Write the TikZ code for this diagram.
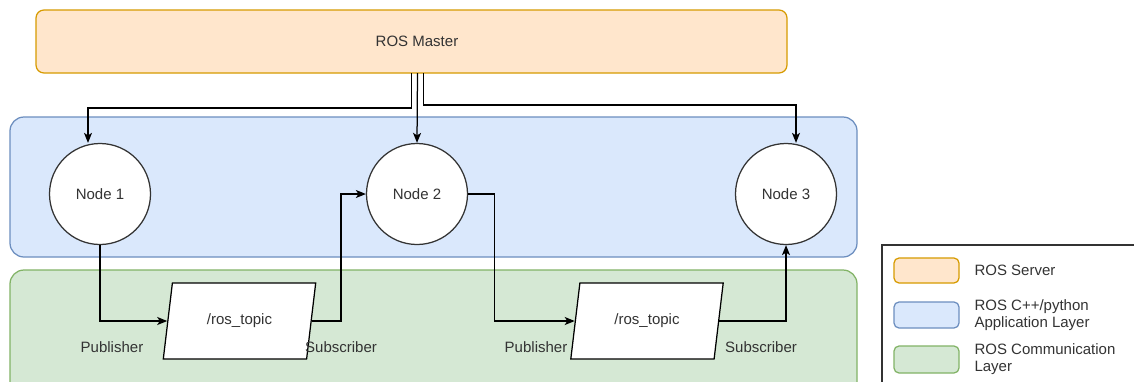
\documentclass[tikz,border=0pt]{standalone}
\usepackage{fontspec}
\setmainfont{Liberation Sans}
\usetikzlibrary{arrows.meta,shapes.geometric}
\definecolor{srvfill}{HTML}{FFE6CC}
\definecolor{srvline}{HTML}{D79B00}
\definecolor{appfill}{HTML}{DAE8FC}
\definecolor{appline}{HTML}{6C8EBF}
\definecolor{comfill}{HTML}{D5E8D4}
\definecolor{comline}{HTML}{82B366}
\definecolor{ink}{HTML}{333333}
\tikzset{
  lbl/.style={font=\fontsize{15}{17.5}\selectfont, text=ink},
  rosnode/.style={circle, draw=ink, fill=white, line width=1.25pt,
    minimum size=101pt, inner sep=0pt, lbl},
  topic/.style={trapezium, trapezium left angle=72.5, trapezium right angle=107.5,
    trapezium stretches=true, minimum width=153pt, minimum height=76pt,
    draw=black, fill=white, line width=1.25pt, inner sep=0pt, lbl},
  conn/.style={draw=black, line width=1.25pt,
    -{Stealth[length=10pt,width=8pt,inset=2.5pt]}},
  swatch/.style={rounded corners=5pt, line width=1.25pt},
}
\begin{document}
\begin{tikzpicture}[x=1pt,y=-1pt]
\useasboundingbox (0,0) rectangle (1134,381);
\clip (0,0) rectangle (1134,381);
\fill[white] (0,0) rectangle (1134,381);

% layer bands
\draw[fill=srvfill, draw=srvline, line width=1.25pt, rounded corners=8pt]
  (36,10) rectangle (787,73);
\draw[fill=appfill, draw=appline, line width=1.25pt, rounded corners=14pt]
  (10,117) rectangle (857,257);
\draw[fill=comfill, draw=comline, line width=1.25pt, rounded corners=14pt]
  (10,270) rectangle (857,400);

\node[lbl] (master) at (417,41.5) {ROS Master};
\coordinate (mbot) at (411.5,73);

% ROS nodes
\node[rosnode] (n1) at (100,194) {Node 1};
\node[rosnode] (n2) at (417,194) {Node 2};
\node[rosnode] (n3) at (786,194) {Node 3};

% topics
\node[topic] (t1) at (239.5,321) {/ros\_topic};
\node[topic] (t2) at (647,321) {/ros\_topic};

% publisher / subscriber labels
\node[lbl] (pub1) at (112,347) {Publisher};
\node[lbl] (sub1) at (341,347) {Subscriber};
\node[lbl] (pub2) at (536,347) {Publisher};
\node[lbl] (sub2) at (761,347) {Subscriber};

% master to nodes
\draw[conn] (mbot) -- ++(0,35) -| ([xshift=-12pt]n1.north);
\draw[conn] ([xshift=6pt]mbot) -- (n2.north);
\draw[conn] ([xshift=12pt]mbot) -- ++(0,32) -| ([xshift=10pt]n3.north);

% publish / subscribe
\draw[conn] (n1.south) |- (t1.west);
\draw[conn] (t1.east) -| ([xshift=-25pt]n2.west) -- (n2.west);
\draw[conn] (n2.east) -- ++(26,0) |- (t2.west);
\draw[conn] (t2.east) -| (n3.south);

% legend
\draw[draw=ink, line width=1.25pt, fill=white] (882,245) rectangle (1145,400);
\draw[swatch, fill=srvfill, draw=srvline] (894,258) rectangle (959,283);
\draw[swatch, fill=appfill, draw=appline] (894,302) rectangle (959,328);
\draw[swatch, fill=comfill, draw=comline] (894,346) rectangle (959,373);
\node[lbl, anchor=west] (lg1) at (971,270.5) {ROS Server};
\node[lbl, anchor=west, align=left] (lg2) at (971,315) {ROS C++/python\\Application Layer};
\node[lbl, anchor=west, align=left] (lg3) at (971,359) {ROS Communication\\Layer};
\end{tikzpicture}
\end{document}
